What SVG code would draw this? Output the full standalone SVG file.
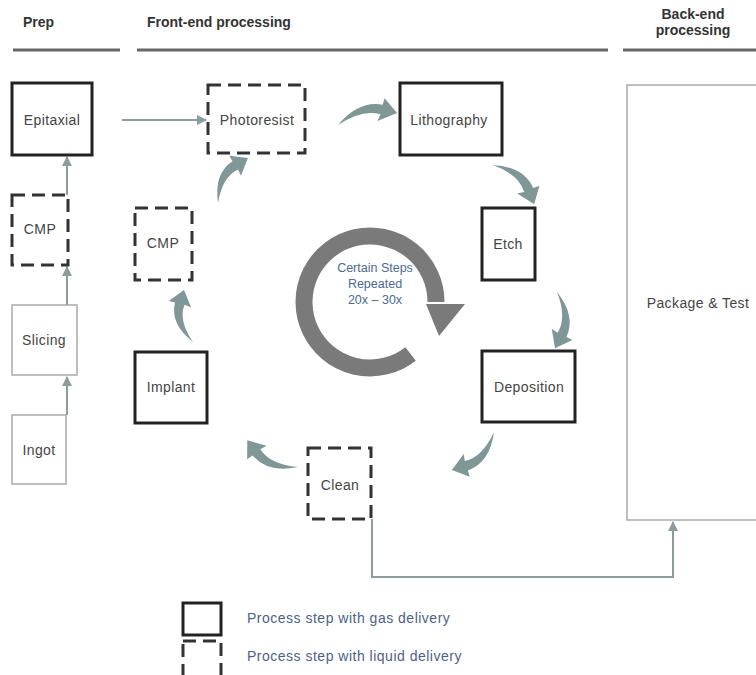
<svg xmlns="http://www.w3.org/2000/svg" xmlns:xlink="http://www.w3.org/1999/xlink" width="756" height="675" viewBox="0 0 756 675">
<style>
.hdr{font-family:"Liberation Sans",Arial,sans-serif;font-weight:bold;font-size:14px;fill:#333}
.rule{stroke:#666;stroke-width:3}
.lbl{font-family:"Liberation Sans",Arial,sans-serif;font-size:14px;fill:#444;text-anchor:middle;letter-spacing:0.4px}
.gas{fill:#fff;stroke:#222;stroke-width:3}
.liq{fill:#fff;stroke:#333;stroke-width:3;stroke-dasharray:13 7}
.thin{fill:#fff;stroke:#aaa;stroke-width:1.5}
.conn{fill:none;stroke:#8c9c9c;stroke-width:2}
.curv{fill:#7f9797}
.blue{font-family:"Liberation Sans",Arial,sans-serif;font-size:12.5px;fill:#4d6a94;text-anchor:middle}
.leg{font-family:"Liberation Sans",Arial,sans-serif;font-size:14px;fill:#4d5f88;letter-spacing:0.5px}
</style>
<defs>
<marker id="ah" viewBox="0 0 10 10" refX="9" refY="5" markerWidth="5" markerHeight="5" orient="auto" markerUnits="strokeWidth">
<path d="M0,0 L10,5 L0,10 Z" fill="#8c9c9c"/>
</marker>
<path id="ca" d="M0,0 Q24,-20 46,-11 L49,-17 L58,0 L38,4 L42,-2 Q26,-11 0,0 Z"/>
</defs>
<rect width="756" height="675" fill="#fff"/>
<g id="headers">
<text class="hdr" x="23" y="27">Prep</text>
<text class="hdr" x="147" y="27">Front-end processing</text>
<text class="hdr" x="693" y="19" text-anchor="middle">Back-end</text>
<text class="hdr" x="693" y="35" text-anchor="middle">processing</text>
<line class="rule" x1="13" y1="50" x2="120" y2="50"/>
<line class="rule" x1="137" y1="50" x2="608" y2="50"/>
<line class="rule" x1="623" y1="50" x2="756" y2="50"/>
</g>
<g id="connectors">
<line class="conn" x1="122" y1="120" x2="206" y2="120" marker-end="url(#ah)"/>
<line class="conn" x1="67" y1="195" x2="67" y2="157" marker-end="url(#ah)"/>
<line class="conn" x1="67" y1="305" x2="67" y2="267" marker-end="url(#ah)"/>
<line class="conn" x1="67" y1="415" x2="67" y2="377" marker-end="url(#ah)"/>
<polyline class="conn" points="372,519 372,577 673,577 673,522" marker-end="url(#ah)"/>
<g class="curv">
<use xlink:href="#ca" transform="translate(218,203) rotate(-56.3) scale(0.93,1)"/>
<use xlink:href="#ca" transform="translate(338,125) rotate(-11.5) scale(1.04,1)"/>
<use xlink:href="#ca" transform="translate(493,165) rotate(43.6) scale(0.98,1)"/>
<use xlink:href="#ca" transform="translate(557,292) rotate(92) scale(0.97,1)"/>
<use xlink:href="#ca" transform="translate(494,432) rotate(137.9) scale(0.98,1)"/>
<use xlink:href="#ca" transform="translate(298,467) rotate(207.9) scale(0.99,1)"/>
<use xlink:href="#ca" transform="translate(193,342) rotate(-99.8) scale(0.91,1)"/>
</g>
</g>
<g id="cycle">
<path d="M410.6,354 A66,66 0 1 1 436,302" fill="none" stroke="#7a7a7a" stroke-width="17"/>
<polygon points="426,304 465,304 439,336" fill="#7a7a7a"/>
<text class="blue" x="375" y="272">Certain Steps</text>
<text class="blue" x="375" y="288">Repeated</text>
<text class="blue" x="375" y="304">20x – 30x</text>
</g>
<g id="ingot"><rect class="thin" x="12" y="415" width="54" height="69"/><text class="lbl" x="39" y="455">Ingot</text></g>
<g id="slicing"><rect class="thin" x="12" y="305" width="65" height="70"/><text class="lbl" x="44" y="345">Slicing</text></g>
<g id="cmp-prep"><rect class="liq" x="12" y="195" width="56" height="70"/><text class="lbl" x="40" y="234">CMP</text></g>
<g id="epitaxial"><rect class="gas" x="12" y="83" width="80" height="72"/><text class="lbl" x="52" y="125">Epitaxial</text></g>
<g id="photoresist"><rect class="liq" x="208" y="85" width="97" height="68"/><text class="lbl" x="257" y="125">Photoresist</text></g>
<g id="lithography"><rect class="gas" x="400" y="83" width="102" height="72"/><text class="lbl" x="449" y="125">Lithography</text></g>
<g id="etch"><rect class="gas" x="482" y="208" width="53" height="72"/><text class="lbl" x="508" y="249">Etch</text></g>
<g id="deposition"><rect class="gas" x="482" y="351" width="93" height="71"/><text class="lbl" x="529" y="392">Deposition</text></g>
<g id="clean"><rect class="liq" x="308" y="448" width="63" height="71"/><text class="lbl" x="340" y="490">Clean</text></g>
<g id="implant"><rect class="gas" x="135" y="352" width="72" height="71"/><text class="lbl" x="171" y="392">Implant</text></g>
<g id="cmp-front"><rect class="liq" x="135" y="208" width="57" height="72"/><text class="lbl" x="163" y="248">CMP</text></g>
<g id="package"><rect class="thin" x="627" y="85" width="140" height="435"/><text class="lbl" x="698" y="308">Package &amp; Test</text></g>
<g id="legend">
<rect class="gas" x="183" y="603" width="38" height="32"/>
<rect class="liq" x="183" y="641" width="38" height="40"/>
<text class="leg" x="247" y="623">Process step with gas delivery</text>
<text class="leg" x="247" y="661">Process step with liquid delivery</text>
</g>
</svg>
